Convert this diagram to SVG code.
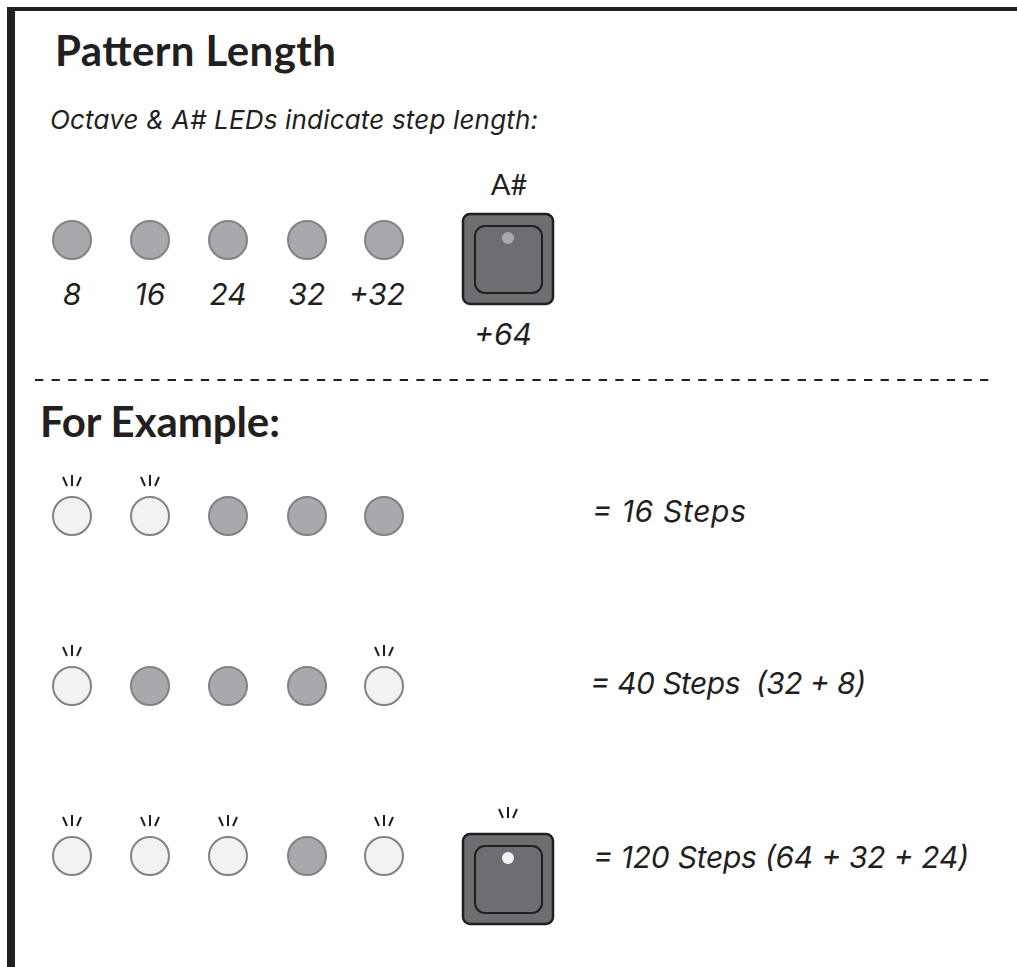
<svg xmlns="http://www.w3.org/2000/svg" width="1017" height="967" viewBox="0 0 1017 967">
<defs>
<style>
.t{fill:#231f20;font-family:"Lato","Liberation Sans",sans-serif}
.h{font-size:42px;font-weight:700}
.i{font-style:italic;font-family:"Inter","Liberation Sans",sans-serif;font-weight:400}
.off{fill:#a7a9ac;stroke:#808285;stroke-width:2}
.on{fill:#f1f2f2;stroke:#808285;stroke-width:2}
.ray{stroke:#231f20;stroke-width:2;fill:none}
.btn{fill:#6d6e71;stroke:#231f20;stroke-width:2.5}
.inner{fill:#6d6e71;stroke:#231f20;stroke-width:2}
</style>
<g id="rays"><path class="ray" d="M-9,-11 L-5,-2 M0,-13 L0,-2 M9,-11 L5,-2"/></g>
</defs>
<rect width="1017" height="967" fill="#fff"/>
<g id="frame">
<rect x="7" y="7" width="1010" height="4" fill="#231f20"/>
<rect x="7" y="7" width="8" height="960" fill="#231f20"/>
</g>
<text class="t h" x="55" y="66" textLength="281">Pattern Length</text>
<text class="t i" x="50" y="129" font-size="26" textLength="488">Octave &amp; A# LEDs indicate step length:</text>

<g id="legend">
<circle class="off" cx="72" cy="240" r="19"/>
<circle class="off" cx="150" cy="240" r="19"/>
<circle class="off" cx="228" cy="240" r="19"/>
<circle class="off" cx="307" cy="240" r="19"/>
<circle class="off" cx="384" cy="240" r="19"/>
<g class="t i" font-size="30" text-anchor="middle">
<text x="72" y="305">8</text>
<text x="150" y="305">16</text>
<text x="228" y="305">24</text>
<text x="307" y="305">32</text>
<text x="377" y="305">+32</text>
<text x="503" y="345">+64</text>
</g>
<text class="t" x="509" y="195" font-size="29" text-anchor="middle" font-family="Inter,'Liberation Sans',sans-serif">A#</text>
<g id="btn1">
<rect class="btn" x="463" y="214" width="90" height="90" rx="7"/>
<rect class="inner" x="475" y="226" width="67" height="67" rx="10"/>
<circle cx="508" cy="238" r="6" fill="#a7a9ac"/>
</g>
</g>

<line x1="35" y1="380" x2="990" y2="380" stroke="#231f20" stroke-width="2" stroke-dasharray="8.3 8.28"/>

<text class="t h" x="40" y="437" textLength="240">For Example:</text>

<g id="ex1">
<circle class="on" cx="72" cy="516" r="19"/><use href="#rays" x="72" y="488"/>
<circle class="on" cx="150" cy="516" r="19"/><use href="#rays" x="150" y="488"/>
<circle class="off" cx="228" cy="516" r="19"/>
<circle class="off" cx="307" cy="516" r="19"/>
<circle class="off" cx="384" cy="516" r="19"/>
<text class="t i" x="592" y="522" font-size="30" textLength="154">= 16 Steps</text>
</g>

<g id="ex2">
<circle class="on" cx="72" cy="686" r="19"/><use href="#rays" x="72" y="658"/>
<circle class="off" cx="150" cy="686" r="19"/>
<circle class="off" cx="228" cy="686" r="19"/>
<circle class="off" cx="307" cy="686" r="19"/>
<circle class="on" cx="384" cy="686" r="19"/><use href="#rays" x="384" y="658"/>
<text class="t i" x="590" y="694" font-size="30" xml:space="preserve" textLength="276">= 40 Steps  (32 + 8)</text>
</g>

<g id="ex3">
<circle class="on" cx="72" cy="856" r="19"/><use href="#rays" x="72" y="828"/>
<circle class="on" cx="150" cy="856" r="19"/><use href="#rays" x="150" y="828"/>
<circle class="on" cx="228" cy="856" r="19"/><use href="#rays" x="228" y="828"/>
<circle class="off" cx="307" cy="856" r="19"/>
<circle class="on" cx="384" cy="856" r="19"/><use href="#rays" x="384" y="828"/>
<g id="btn2">
<rect class="btn" x="463" y="834" width="90" height="90" rx="7"/>
<rect class="inner" x="475" y="846" width="67" height="67" rx="10"/>
<circle cx="508" cy="858" r="6" fill="#f1f2f2"/>
<use href="#rays" x="508" y="820"/>
</g>
<text class="t i" x="593" y="868" font-size="30" textLength="376">= 120 Steps (64 + 32 + 24)</text>
</g>
</svg>
